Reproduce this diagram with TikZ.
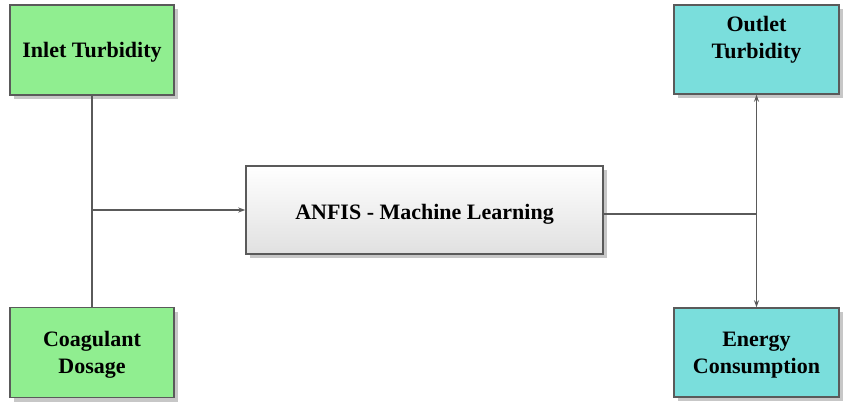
\documentclass[tikz,border=0pt]{standalone}
\usepackage{fontspec}
\setmainfont{Liberation Serif}
\usetikzlibrary{arrows.meta,shadows}
\definecolor{inputgreen}{RGB}{144,238,144}
\definecolor{outputcyan}{RGB}{122,222,220}
\definecolor{edgegray}{RGB}{90,90,90}
\newcommand{\dropline}[2]{\raisebox{-#1}[\height][\depth]{#2}}

\begin{document}
\begin{tikzpicture}[x=1pt,y=-1pt,
    block/.style={draw=edgegray, line width=1.4pt, align=center,
        font=\fontsize{22}{27}\selectfont\bfseries,
        drop shadow={shadow xshift=4pt, shadow yshift=-4pt, fill=black!22, opacity=1}},
    inbox/.style={block, fill=inputgreen, minimum width=164pt, minimum height=90pt},
    outbox/.style={block, fill=outputcyan, minimum width=165pt, minimum height=89pt},
    link/.style={draw=edgegray, line width=1.4pt},
    tip/.style={-{Stealth[length=7pt,width=5pt]}}]
    \useasboundingbox (0,0) rectangle (846,402);

    % Nodes
    \node[inbox] (inlet) at (92,50) {\dropline{2pt}{Inlet Turbidity}};
    \node[inbox] (coag) at (92,352.5) {\dropline{2pt}{Coagulant}\\\dropline{2pt}{Dosage}};
    \node[outbox] (outlet) at (756.5,49.5) {\dropline{1pt}{Outlet}\\\dropline{1pt}{Turbidity}\\~};
    \node[outbox] (energy) at (756.5,352.5) {\dropline{3pt}{Energy}\\\dropline{3pt}{Consumption}};
    \node[block, top color=white, bottom color=black!12, minimum width=357pt, minimum height=88pt] (anfis) at (424.5,210) {\dropline{4pt}{ANFIS - Machine Learning}};

    % Junctions
    \coordinate (jl) at (92,210);
    \coordinate (jr) at (756.5,214);

    % Arrows
    \draw[link] (inlet) -- (coag);
    \draw[link, tip] (jl) -- (anfis);
    \draw[link] (anfis.east |- jr) -- (jr);
    \draw[link, tip] (jr) -- (outlet);
    \draw[link, tip] (jr) -- (energy);
\end{tikzpicture}
\end{document}
